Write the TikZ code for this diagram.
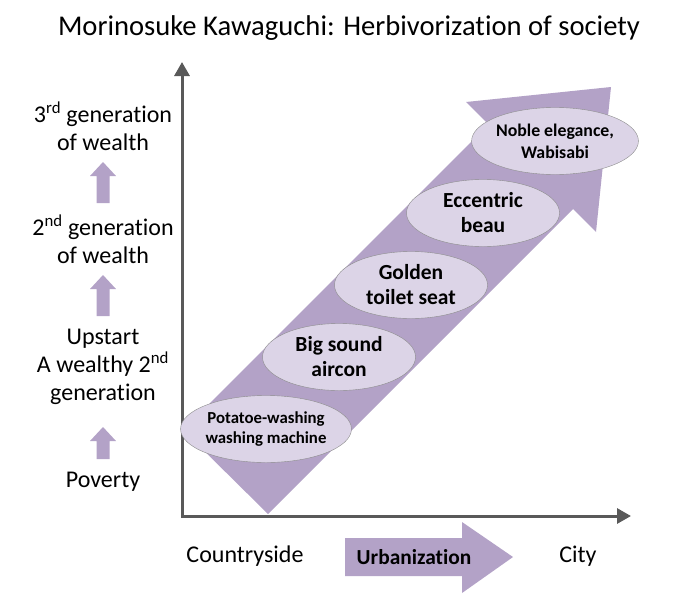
\documentclass[tikz,border=0pt]{standalone}
\usepackage{fontspec}
\setmainfont{Carlito}[Ligatures=NoCommon]
\usepackage{xcolor}
\definecolor{wealthPurple}{HTML}{B3A2C7}
\definecolor{wealthLilac}{HTML}{DCD4E7}
\definecolor{axisGray}{HTML}{595959}
\definecolor{rimGray}{HTML}{8C8C8C}
\usetikzlibrary{arrows.meta,shapes.geometric}

\begin{document}
\begin{tikzpicture}[x=1pt, y=-1pt,
    every node/.style={font=\fontsize{24}{28}\selectfont, align=center, text=black, inner sep=0pt},
    stage/.style={ellipse, draw=rimGray, thin, fill=wealthLilac, minimum width=153pt,
                  minimum height=67pt, font=\bfseries\fontsize{21.5}{25}\selectfont}]
  \useasboundingbox (0,0) rectangle (700,594);

  % Title
  \node (title) at (349,28) {\fontsize{28.6}{32}\selectfont Morinosuke Kawaguchi: Herbivorization of society};

  % Big diagonal arrow
  \fill[wealthPurple] (268,514) -- (183,430) -- (488.5,124.5) -- (466,102) -- (611,87)
    -- (596,232) -- (573,209) -- cycle;

  % Axes
  \coordinate (origin) at (182,516);
  \coordinate (ytip) at (182,62);
  \coordinate (xtip) at (631,516);
  \draw[axisGray, line width=3pt, {Triangle[length=14pt,width=15pt]}-{Triangle[length=14pt,width=15pt]}]
    (ytip) -- (origin) -- (xtip);

  % Stages on the arrow
  \node[stage, font=\bfseries\fontsize{16.8}{20}\selectfont] (potato) at (266,429) {Potatoe-washing\\washing machine};
  \node[stage] (aircon) at (339,357) {Big sound\\aircon};
  \node[stage] (toilet) at (411,285) {Golden\\toilet seat};
  \node[stage] (beau) at (483,213) {Eccentric\\beau};
  \node[stage, font=\bfseries\fontsize{17.8}{22}\selectfont] (noble) at (555,141) {Noble elegance,\\Wabisabi};

  % Generations
  \node (third) at (103,126) {3\textsuperscript{rd} generation\\of wealth};
  \node (second) at (103,239) {2\textsuperscript{nd} generation\\of wealth};
  \node (upstart) at (103,367) {Upstart\\A wealthy 2\textsuperscript{nd}\\generation};
  \node (poverty) at (103,482) {Poverty};
  \foreach \ytop/\len in {162/41, 275/41, 427/32}
    \fill[wealthPurple] (103,\ytop) -- ++(13,14) -- ++(-6.5,0) -- ++(0,\len-14) -- ++(-13,0)
      -- ++(0,14-\len) -- ++(-6.5,0) -- cycle;

  % Urbanization
  \node (country) at (245,556) {Countryside};
  \node (city) at (578,556) {City};
  \fill[wealthPurple] (345,538) -- (462,538) -- (462,522) -- (513,557) -- (462,593)
    -- (462,576) -- (345,576) -- cycle;
  \node[font=\bfseries\fontsize{21.4}{25}\selectfont] (urban) at (414,557) {Urbanization};
\end{tikzpicture}
\end{document}
